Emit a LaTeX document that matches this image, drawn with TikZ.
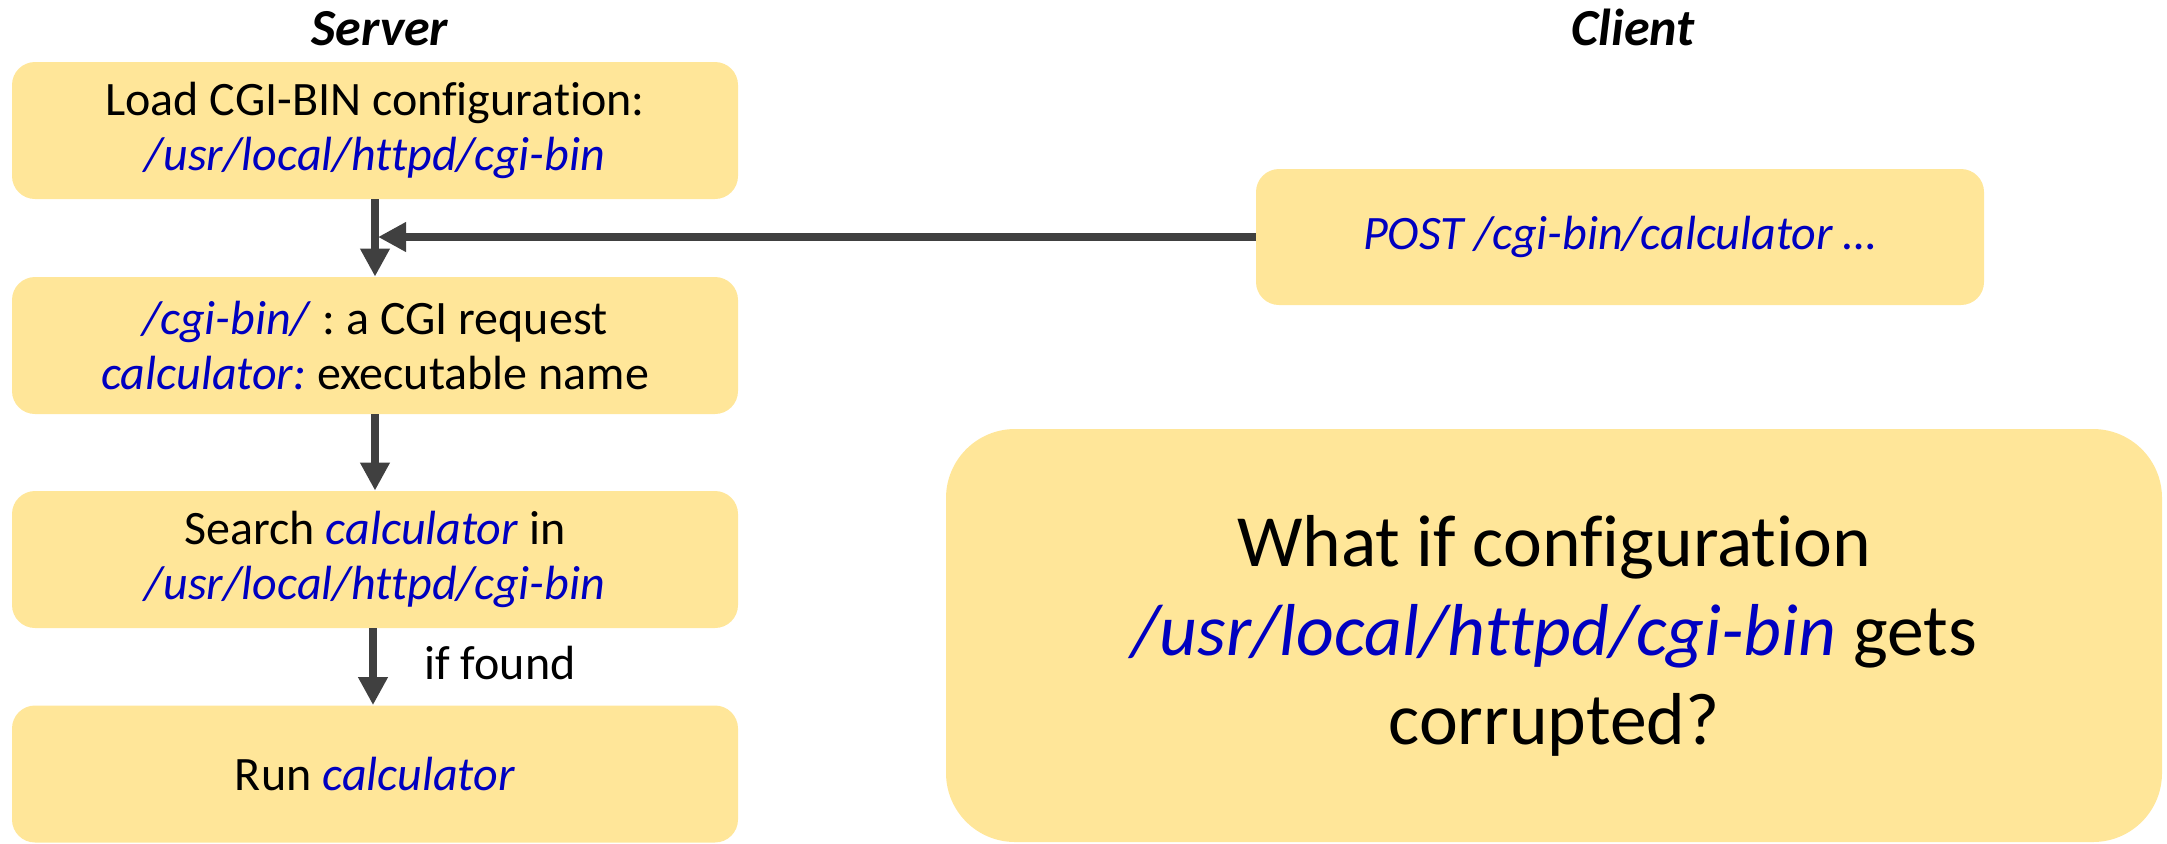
\documentclass[tikz,border=0pt]{standalone}
\usepackage{fontspec}
\setmainfont{Carlito}[RawFeature={-liga;-clig;-dlig;-calt;-hlig}]
\usetikzlibrary{arrows.meta}
\definecolor{boxfill}{HTML}{FFE699}
\definecolor{pathblue}{HTML}{0000C0}
\definecolor{arrowgray}{HTML}{404040}
\newcommand{\bluepath}[1]{\textcolor{pathblue}{\textit{#1}}}
\frenchspacing
\begin{document}
\begin{tikzpicture}[x=0.5pt,y=-0.5pt,
  stepbox/.style={fill=boxfill, rounded corners=11.5pt, minimum width=363pt,
    minimum height=68.5pt, align=center, inner sep=0pt,
    font=\fontsize{24}{27.5}\selectfont},
  bigbox/.style={fill=boxfill, rounded corners=34.5pt, minimum width=608pt,
    minimum height=206.5pt, align=center, inner sep=0pt,
    font=\fontsize{36.8}{44.5}\selectfont},
  titletext/.style={anchor=base, inner sep=0pt,
    font=\fontsize{26}{30}\selectfont\bfseries\itshape},
  labeltext/.style={anchor=base west, inner sep=0pt,
    font=\fontsize{24}{27.5}\selectfont},
  flow/.style={draw=arrowgray, line width=4pt,
    -{Triangle[length=14pt,width=14pt]}},
]
\useasboundingbox (0,0) rectangle (2167,843);

\node[titletext] (server) at (380,45) {Server};
\node[titletext] (client) at (1633,45) {Client};

\node[stepbox] (b1) at (375,130.5) {Load CGI-BIN configuration:\\ \bluepath{/usr/local/httpd/cgi-bin}};
\node[stepbox] (b2) at (375,345.5) {\bluepath{/cgi-bin/} : a CGI request\\ \bluepath{calculator:} executable name};
\node[stepbox] (b3) at (375,559.5) {Search \bluepath{calculator} in\\ \bluepath{/usr/local/httpd/cgi-bin}};
\node[stepbox] (b4) at (375,774) {Run \bluepath{calculator}};

\node[stepbox, minimum width=364pt, minimum height=68pt] (post) at (1620,237)
  {\bluepath{POST /cgi-bin/calculator …}};

\node[bigbox] (q) at (1554,635.5)
  {What if configuration\\ \bluepath{/usr/local/httpd/cgi-bin} gets\\ corrupted?};

\draw[flow] (b1.south) -- (b2.north);
\draw[flow] (b2.south) -- (b3.north);
\draw[flow] ([xshift=-1pt]b3.south) -- ([xshift=-1pt]b4.north);

\coordinate (join) at ([xshift=1.5pt]b1.south |- post.west);
\draw[flow] (post.west) -- (join);

\node[labeltext] (found) at (424,679) {if found};
\end{tikzpicture}
\end{document}
